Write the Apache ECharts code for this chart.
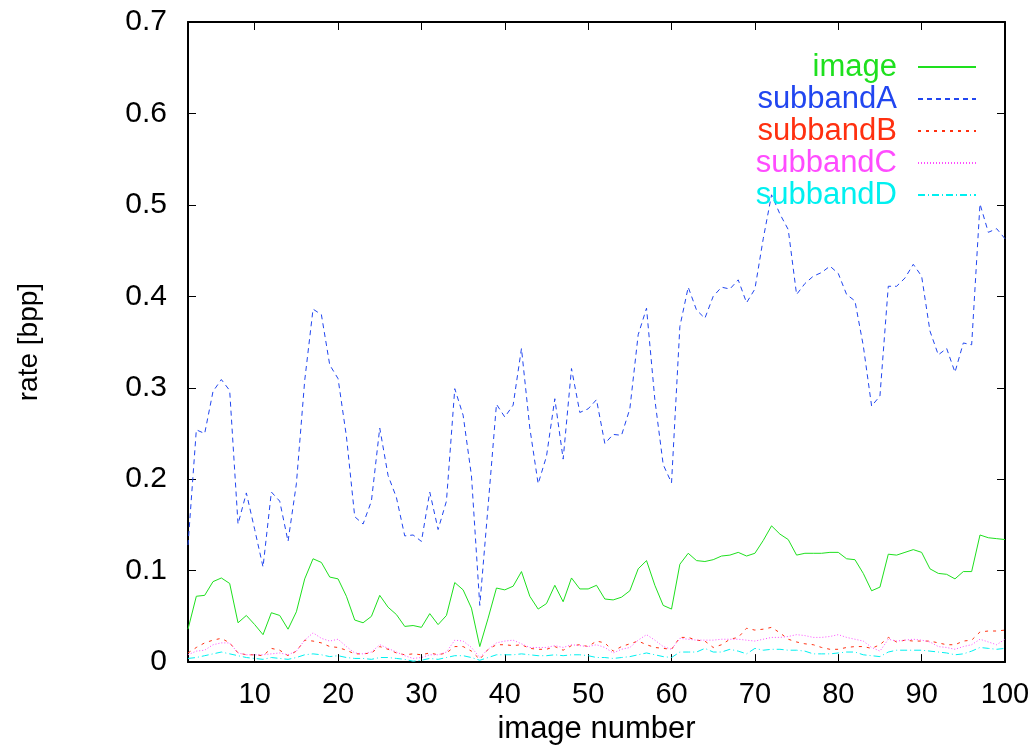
<!DOCTYPE html>
<html>
<head>
<meta charset="utf-8">
<script src="https://cdn.jsdelivr.net/npm/echarts@6/dist/echarts.min.js"></script>
<style>
  html, body { margin: 0; padding: 0; background: #fff; }
  #chart { width: 1035px; height: 750px; }
</style>
</head>
<body>
<div id="chart"></div>
<script>
// image numbers run 2..100
var firstImage = 2;
var lastImage = 100;
var xTicks = [10, 20, 30, 40, 50, 60, 70, 80, 90, 100];

var image = [
  0.036, 0.072, 0.073, 0.088, 0.092, 0.086, 0.043, 0.051, 0.041, 0.030,
  0.054, 0.051, 0.036, 0.055, 0.091, 0.113, 0.109, 0.093, 0.091, 0.072,
  0.046, 0.043, 0.050, 0.073, 0.060, 0.052, 0.039, 0.040, 0.038, 0.053,
  0.041, 0.051, 0.087, 0.079, 0.059, 0.017, 0.048, 0.081, 0.079, 0.083,
  0.099, 0.072, 0.058, 0.064, 0.084, 0.066, 0.092, 0.080, 0.080, 0.084,
  0.069, 0.068, 0.071, 0.078, 0.102, 0.111, 0.084, 0.062, 0.058, 0.107,
  0.119, 0.111, 0.110, 0.112, 0.116, 0.117, 0.120, 0.116, 0.119, 0.133,
  0.149, 0.140, 0.134, 0.117, 0.119, 0.119, 0.119, 0.120, 0.120, 0.113,
  0.112, 0.097, 0.078, 0.082, 0.118, 0.117, 0.120, 0.123, 0.120, 0.102,
  0.097, 0.096, 0.091, 0.099, 0.099, 0.139, 0.136, 0.135, 0.134
];
var subbandA = [
  0.128, 0.254, 0.250, 0.296, 0.309, 0.297, 0.151, 0.185, 0.145, 0.104,
  0.186, 0.176, 0.132, 0.195, 0.308, 0.386, 0.380, 0.325, 0.310, 0.247,
  0.159, 0.151, 0.176, 0.256, 0.204, 0.180, 0.138, 0.139, 0.132, 0.186,
  0.145, 0.176, 0.299, 0.270, 0.204, 0.062, 0.171, 0.282, 0.268, 0.281,
  0.343, 0.256, 0.195, 0.225, 0.288, 0.222, 0.321, 0.273, 0.277, 0.287,
  0.239, 0.249, 0.248, 0.277, 0.358, 0.387, 0.287, 0.216, 0.196, 0.367,
  0.410, 0.385, 0.376, 0.400, 0.410, 0.408, 0.418, 0.393, 0.408, 0.463,
  0.511, 0.490, 0.473, 0.402, 0.414, 0.422, 0.426, 0.433, 0.425, 0.402,
  0.395, 0.346, 0.280, 0.291, 0.411, 0.411, 0.420, 0.435, 0.422, 0.362,
  0.336, 0.343, 0.317, 0.349, 0.347, 0.501, 0.470, 0.474, 0.463
];
var subbandB = [
  0.010, 0.016, 0.021, 0.024, 0.026, 0.021, 0.010, 0.008, 0.008, 0.007,
  0.015, 0.013, 0.007, 0.012, 0.024, 0.023, 0.021, 0.017, 0.016, 0.013,
  0.009, 0.009, 0.010, 0.017, 0.014, 0.010, 0.008, 0.009, 0.008, 0.010,
  0.008, 0.010, 0.017, 0.017, 0.012, 0.003, 0.014, 0.019, 0.019, 0.018,
  0.019, 0.015, 0.014, 0.014, 0.017, 0.013, 0.018, 0.019, 0.017, 0.023,
  0.021, 0.012, 0.017, 0.020, 0.023, 0.019, 0.016, 0.015, 0.014, 0.027,
  0.027, 0.024, 0.023, 0.016, 0.019, 0.025, 0.027, 0.037, 0.035, 0.036,
  0.038, 0.032, 0.025, 0.022, 0.020, 0.019, 0.016, 0.014, 0.014, 0.016,
  0.017, 0.017, 0.015, 0.019, 0.027, 0.022, 0.024, 0.023, 0.023, 0.023,
  0.021, 0.019, 0.019, 0.023, 0.024, 0.033, 0.034, 0.034, 0.035
];
var subbandC = [
  0.008, 0.012, 0.013, 0.019, 0.021, 0.021, 0.010, 0.008, 0.008, 0.008,
  0.009, 0.010, 0.008, 0.012, 0.024, 0.032, 0.026, 0.023, 0.025, 0.017,
  0.010, 0.009, 0.011, 0.019, 0.015, 0.011, 0.007, 0.004, 0.005, 0.008,
  0.008, 0.011, 0.024, 0.023, 0.016, 0.005, 0.014, 0.021, 0.023, 0.024,
  0.020, 0.016, 0.016, 0.016, 0.018, 0.016, 0.019, 0.018, 0.017, 0.019,
  0.016, 0.010, 0.014, 0.016, 0.024, 0.030, 0.024, 0.017, 0.014, 0.026,
  0.025, 0.024, 0.024, 0.024, 0.025, 0.025, 0.025, 0.024, 0.023, 0.025,
  0.027, 0.027, 0.028, 0.030, 0.029, 0.027, 0.027, 0.028, 0.030, 0.027,
  0.025, 0.023, 0.016, 0.012, 0.025, 0.023, 0.024, 0.025, 0.024, 0.022,
  0.017, 0.016, 0.014, 0.017, 0.019, 0.025, 0.022, 0.019, 0.025
];
var subbandD = [
  0.004, 0.005, 0.007, 0.009, 0.011, 0.009, 0.007, 0.005, 0.004, 0.003,
  0.005, 0.004, 0.003, 0.005, 0.008, 0.009, 0.008, 0.006, 0.007, 0.005,
  0.004, 0.004, 0.003, 0.005, 0.005, 0.004, 0.003, 0.001, 0.002, 0.004,
  0.003, 0.005, 0.007, 0.007, 0.005, 0.002, 0.005, 0.008, 0.008, 0.008,
  0.009, 0.008, 0.007, 0.007, 0.008, 0.007, 0.008, 0.008, 0.007, 0.005,
  0.005, 0.004, 0.005, 0.006, 0.008, 0.010, 0.008, 0.006, 0.005, 0.011,
  0.011, 0.011, 0.015, 0.011, 0.011, 0.014, 0.012, 0.009, 0.015, 0.013,
  0.014, 0.014, 0.013, 0.013, 0.012, 0.009, 0.009, 0.009, 0.010, 0.011,
  0.011, 0.008, 0.007, 0.006, 0.011, 0.013, 0.013, 0.013, 0.013, 0.012,
  0.011, 0.010, 0.008, 0.009, 0.012, 0.016, 0.015, 0.014, 0.015
];

var names = ['image', 'subbandA', 'subbandB', 'subbandC', 'subbandD'];
var values = [image, subbandA, subbandB, subbandC, subbandD];
var colors = ['#1ee01e', '#2146f0', '#ff3010', '#ff4cff', '#00f0f0'];
var dashes = ['solid', [5, 4], [3, 5], [1, 2], [7, 3, 1, 3]];

var FONT = '"Liberation Sans", Arial, sans-serif';

function pairs(arr) {
  var out = [];
  for (var i = 0; i < arr.length; i++) out.push([firstImage + i, arr[i]]);
  return out;
}

var series = names.map(function (n, i) {
  return {
    name: n,
    type: 'line',
    data: pairs(values[i]),
    symbol: 'none',
    animation: false,
    color: colors[i],
    lineStyle: { color: colors[i], width: 1, type: dashes[i] }
  };
});

var tickStyle = { inside: true, length: 8, lineStyle: { color: '#000', width: 1 } };

var chart = echarts.init(document.getElementById('chart'), null, { renderer: 'canvas' });
chart.setOption({
  backgroundColor: '#fff',
  animation: false,
  grid: { left: 188, right: 30, top: 22, bottom: 86, containLabel: false },
  legend: {
    orient: 'vertical',
    align: 'right',
    right: 53,
    top: 46,
    itemGap: 0,
    itemWidth: 58,
    itemHeight: 14,
    itemStyle: { opacity: 0 },
    data: names.map(function (n, i) {
      return { name: n, textStyle: { color: colors[i] } };
    }),
    textStyle: { fontSize: 31, fontFamily: FONT, lineHeight: 32, padding: [0, 16, 0, 0] }
  },
  xAxis: [{
    type: 'value',
    min: firstImage,
    max: lastImage,
    name: 'image number',
    nameLocation: 'middle',
    nameGap: 46,
    nameTextStyle: { fontSize: 31, fontFamily: FONT, color: '#000' },
    axisLine: { onZero: false, lineStyle: { color: '#000', width: 2 } },
    axisTick: Object.assign({ customValues: xTicks }, tickStyle),
    axisLabel: { customValues: xTicks, fontSize: 29, fontFamily: FONT, color: '#000', margin: 18 },
    splitLine: { show: false }
  }, {
    type: 'value',
    position: 'top',
    min: firstImage,
    max: lastImage,
    axisLine: { onZero: false, lineStyle: { color: '#000', width: 2 } },
    axisTick: Object.assign({ customValues: xTicks }, tickStyle),
    axisLabel: { show: false },
    splitLine: { show: false }
  }],
  yAxis: [{
    type: 'value',
    min: 0,
    max: 0.7,
    interval: 0.1,
    name: 'rate [bpp]',
    nameLocation: 'middle',
    nameGap: 145,
    nameTextStyle: { fontSize: 28, fontFamily: FONT, color: '#000' },
    axisLine: { show: true, onZero: false, lineStyle: { color: '#000', width: 2 } },
    axisTick: tickStyle,
    axisLabel: { fontSize: 30, fontFamily: FONT, color: '#000', margin: 21 },
    splitLine: { show: false }
  }, {
    type: 'value',
    position: 'right',
    min: 0,
    max: 0.7,
    interval: 0.1,
    axisLine: { show: true, onZero: false, lineStyle: { color: '#000', width: 2 } },
    axisTick: tickStyle,
    axisLabel: { show: false },
    splitLine: { show: false }
  }],
  series: series
});
</script>
</body>
</html>
